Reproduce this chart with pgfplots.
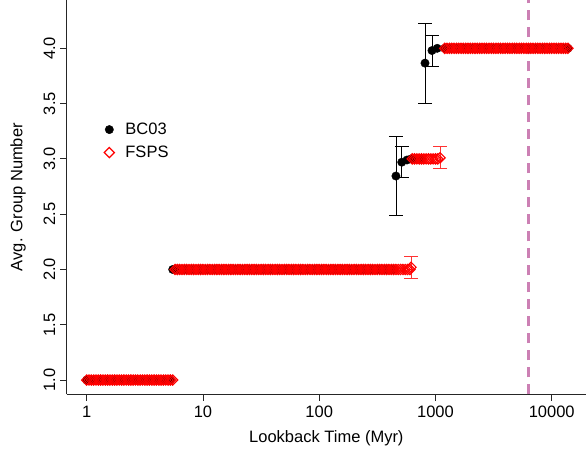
\documentclass[border=0pt]{standalone}
\usepackage{pgfplots}
\pgfplotsset{compat=1.18}
\usepackage{pgfplotstable}
\usepackage{fontspec}
\setmainfont{Liberation Sans}
\newcommand\fs{\fontsize{16.5bp}{19.8bp}\selectfont}
\definecolor{vline}{RGB}{204,128,180}
\pgfplotstableread{
x bc fs
1.000 1 1
1.047 1 1
1.096 1 1
1.148 1 1
1.202 1 1
1.259 1 1
1.318 1 1
1.380 1 1
1.445 1 1
1.514 1 1
1.585 1 1
1.660 1 1
1.738 1 1
1.820 1 1
1.905 1 1
1.995 1 1
2.089 1 1
2.188 1 1
2.291 1 1
2.399 1 1
2.512 1 1
2.630 1 1
2.754 1 1
2.884 1 1
3.020 1 1
3.162 1 1
3.311 1 1
3.467 1 1
3.631 1 1
3.802 1 1
3.981 1 1
4.169 1 1
4.365 1 1
4.571 1 1
4.786 1 1
5.012 1 1
5.248 1 1
5.495 2 1
5.754 2 2
6.026 2 2
6.310 2 2
6.607 2 2
6.918 2 2
7.244 2 2
7.586 2 2
7.943 2 2
8.318 2 2
8.710 2 2
9.120 2 2
9.550 2 2
10.00 2 2
10.47 2 2
10.96 2 2
11.48 2 2
12.02 2 2
12.59 2 2
13.18 2 2
13.80 2 2
14.45 2 2
15.14 2 2
15.85 2 2
16.60 2 2
17.38 2 2
18.20 2 2
19.05 2 2
19.95 2 2
20.89 2 2
21.88 2 2
22.91 2 2
23.99 2 2
25.12 2 2
26.30 2 2
27.54 2 2
28.84 2 2
30.20 2 2
31.62 2 2
33.11 2 2
34.67 2 2
36.31 2 2
38.02 2 2
39.81 2 2
41.69 2 2
43.65 2 2
45.71 2 2
47.86 2 2
50.12 2 2
52.48 2 2
54.95 2 2
57.54 2 2
60.26 2 2
63.10 2 2
66.07 2 2
69.18 2 2
72.44 2 2
75.86 2 2
79.43 2 2
83.18 2 2
87.10 2 2
91.20 2 2
95.50 2 2
100.0 2 2
104.7 2 2
109.6 2 2
114.8 2 2
120.2 2 2
125.9 2 2
131.8 2 2
138.0 2 2
144.5 2 2
151.4 2 2
158.5 2 2
166.0 2 2
173.8 2 2
182.0 2 2
190.5 2 2
199.5 2 2
208.9 2 2
218.8 2 2
229.1 2 2
239.9 2 2
251.2 2 2
263.0 2 2
275.4 2 2
288.4 2 2
302.0 2 2
316.2 2 2
331.1 2 2
346.7 2 2
363.1 2 2
380.2 2 2
398.1 2 2
416.9 2 2
436.5 2 2
457.1 nan 2
478.6 nan 2
501.2 nan 2
524.8 nan 2
549.5 nan 2
575.4 nan 2
602.6 nan 2
631.0 3 3
660.7 3 3
691.8 3 3
724.4 3 3
758.6 3 3
794.3 nan 3
831.8 nan 3
871.0 nan 3
912.0 nan 3
955.0 nan 3
1000 nan 3
1047 nan 3
1202 4 4
1259 4 4
1318 4 4
1380 4 4
1445 4 4
1514 4 4
1585 4 4
1660 4 4
1738 4 4
1820 4 4
1905 4 4
1995 4 4
2089 4 4
2188 4 4
2291 4 4
2399 4 4
2512 4 4
2630 4 4
2754 4 4
2884 4 4
3020 4 4
3162 4 4
3311 4 4
3467 4 4
3631 4 4
3802 4 4
3981 4 4
4169 4 4
4365 4 4
4571 4 4
4786 4 4
5012 4 4
5248 4 4
5495 4 4
5754 4 4
6026 4 4
6310 4 4
6607 4 4
6918 4 4
7244 4 4
7586 4 4
7943 4 4
8318 4 4
8710 4 4
9120 4 4
9550 4 4
10000 4 4
10470 4 4
10960 4 4
11480 4 4
12020 4 4
12590 4 4
13180 4 4
13800 4 4
}\grid

\begin{document}
\begin{tikzpicture}
\begin{semilogxaxis}[
  scale only axis, width=519.3bp, height=394.3bp,
  xmin=0.673, xmax=19720, ymin=0.871, ymax=4.437,
  axis lines*=left,
  axis line style={line width=0.8bp, black!85},
  tick align=outside, major tick length=6.5bp,
  tick style={line width=0.8bp, black!85},
  xtick={1,10,100,1000,10000}, xticklabels={1,10,100,1000,10000},
  xminorticks=false,
  ytick={1,1.5,2,2.5,3,3.5,4},
  /pgf/number format/fixed, /pgf/number format/fixed zerofill,
  /pgf/number format/precision=1, /pgf/number format/assume math mode=true,
  yticklabel style={rotate=90, anchor=south, font=\fs},
  ticklabel shift=1.5bp,
  xticklabel style={font=\fs},
  xlabel={Lookback Time (Myr)}, ylabel={Avg. Group Number},
  every axis x label/.style={at={(axis description cs:0.5,-0.1108)}, anchor=center, font=\fs},
  every axis y label/.style={at={(axis description cs:-0.0938,0.5)}, anchor=center, rotate=90, font=\fs},
  legend style={draw=none, fill=none, at={(axis cs:1.41,3.161)}, anchor=west, font=\fs, inner sep=0pt, row sep=6bp,
    /tikz/every odd column/.append style={column sep=9bp}},
  legend cell align=left,
]
\addplot[vline, line width=2.5bp, dash pattern=on 10bp off 7bp, forget plot] coordinates {(6340,0.871) (6340,4.437)};
\addplot[only marks, mark=*, mark size=4.2bp, black] table[x=x, y=bc] {\grid};
\addlegendentry{BC03}
\addplot[only marks, mark=*, mark size=4.2bp, black, forget plot,
  error bars/.cd, y dir=both, y explicit,
  error bar style={line width=0.8bp, black},
  error mark options={rotate=90, mark size=7bp, line width=0.8bp, black}]
  coordinates {(457,2.845) +- (0,0.355) (513,2.97) +- (0,0.14) (813,3.866) +- (0,0.36) (933,3.98) +- (0,0.14)};
\addplot[only marks, mark=*, mark size=4.2bp, black, forget plot] coordinates {(569,2.99) (617,3.0) (1035,4.0)};
\addplot[only marks, mark=square, mark options={rotate=45}, mark size=3.6bp, red, line width=1.2bp] table[x=x, y=fs] {\grid};
\addlegendentry{FSPS}
\addplot[only marks, mark=square, mark options={rotate=45}, mark size=3.6bp, red, line width=1.2bp, forget plot,
  error bars/.cd, y dir=both, y explicit,
  error bar style={line width=0.8bp, red!80},
  error mark options={rotate=90, mark size=7bp, line width=0.8bp, red!80}]
  coordinates {(616.6,2.02) +- (0,0.1) (1096,3.01) +- (0,0.1)};
\end{semilogxaxis}
\pgfresetboundingbox
\path (-66.7bp,-58.7bp) rectangle (519.3bp,394.3bp);
\end{tikzpicture}
\end{document}
